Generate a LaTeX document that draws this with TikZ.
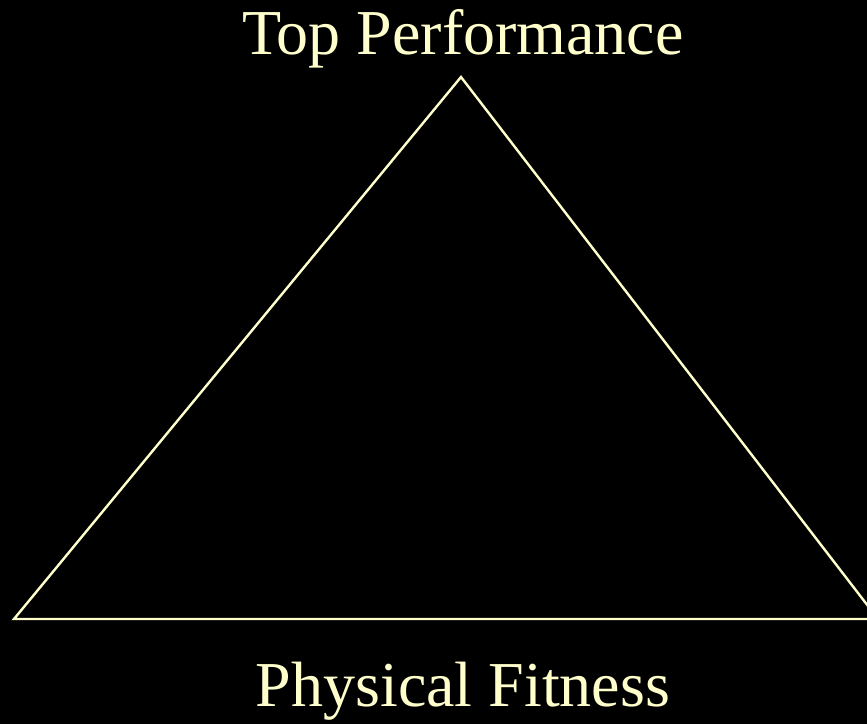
\documentclass[tikz,border=0pt]{standalone}
\usepackage{fontspec}
\setmainfont{Liberation Serif}
\definecolor{chalk}{RGB}{255,255,204}

\begin{document}
\begin{tikzpicture}[x=1pt,y=-1pt]
    \fill[black] (0,0) rectangle (867,724);
    \useasboundingbox (0,0) rectangle (867,724);
    \clip (0,0) rectangle (867,724);

    \coordinate (apex) at (461,77);
    \coordinate (left) at (14,619);
    \coordinate (right) at (878,619);
    \draw[chalk, line width=2.4pt, line join=miter] (left) -- (apex) -- (right) -- cycle;

    \node[text=chalk, anchor=base, inner sep=0pt, font=\fontsize{64}{76}\selectfont] (peak) at (463,54) {Top Performance};
    \node[text=chalk, anchor=base, inner sep=0pt, font=\fontsize{64}{76}\selectfont] (base) at (463,706) {Physical Fitness};
  \end{tikzpicture}
\end{document}
